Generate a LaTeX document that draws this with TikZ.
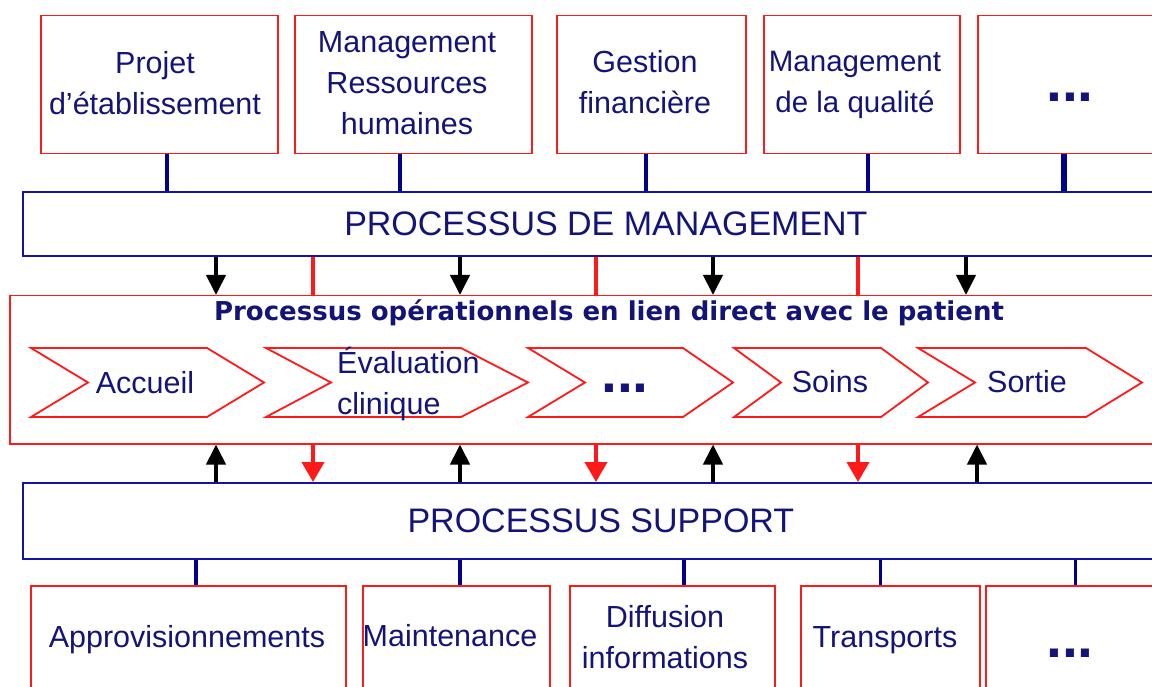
\documentclass[tikz,border=0pt]{standalone}
\usepackage{fontspec}
\setmainfont{Liberation Sans}
\newfontfamily\headfont{DejaVu Sans}
\usetikzlibrary{arrows.meta}
\definecolor{boxred}{RGB}{255,25,25}
\definecolor{linenavy}{RGB}{20,20,160}
\definecolor{stubnavy}{RGB}{0,0,140}
\definecolor{txtnavy}{RGB}{20,20,120}

\begin{document}
\begin{tikzpicture}[x=1pt,y=-1pt,
  redbox/.style={draw=boxred, line width=1.5pt, rectangle, inner sep=0pt, anchor=north west},
  bluebox/.style={draw=linenavy, line width=1.8pt, rectangle, inner sep=0pt, anchor=north west,
    text=txtnavy, font=\fontsize{34}{40}\selectfont},
  lbl/.style={text=txtnavy, font=\fontsize{30.5}{41}\selectfont, align=center, inner sep=0pt},
  dots/.style={text=txtnavy, font=\fontsize{57}{57}\selectfont\bfseries, inner sep=0pt},
  stub/.style={draw=stubnavy, line width=3.5pt},
  redstub/.style={draw=boxred, line width=4pt},
  blackarr/.style={draw=black, line width=4pt, -{Triangle[width=19pt,length=20pt]}},
  redarr/.style={draw=boxred, line width=4pt, -{Triangle[width=22pt,length=20pt]}},
  chev/.style={draw=boxred, line width=1.8pt, line join=miter}
]
\useasboundingbox (0,0) rectangle (1152,687);
\clip (0,0) rectangle (1152,687);

% management processes
\node[redbox, minimum width=237pt, minimum height=138pt] (m1) at (40,15) {};
\node[redbox, minimum width=237pt, minimum height=138pt] (m2) at (294,15) {};
\node[redbox, minimum width=189pt, minimum height=138pt] (m3) at (556,15) {};
\node[redbox, minimum width=196pt, minimum height=138pt] (m4) at (763,15) {};
\node[redbox, minimum width=250pt, minimum height=138pt] (m5) at (977,15) {};
\node[lbl] (t1) at (155,83) {Projet\\d’établissement};
\node[lbl] (t2) at (407,83) {Management\\Ressources\\humaines};
\node[lbl] (t3) at (645,82) {Gestion\\financière};
\node[lbl, font=\fontsize{29.5}{41}\selectfont] (t4) at (855,85) {Management\\de la qualité};
\node[dots] (t5) at (1070,97) {...};

% the three process bands
\node[bluebox, minimum width=1166pt, minimum height=64pt] (mg) at (22,191) {PROCESSUS DE MANAGEMENT};
\node[redbox, minimum width=1200pt, minimum height=148pt] (op) at (9,295) {};
\node[text=txtnavy, font=\headfont\bfseries\fontsize{26}{30}\selectfont, inner sep=0pt] (optitle) at (609,313)
  {Processus opérationnels en lien direct avec le patient};
\node[bluebox, minimum width=1156pt, minimum height=76pt] (sp) at (22,482) {PROCESSUS SUPPORT};

% support processes
\node[redbox, minimum width=315pt, minimum height=140pt] (s1) at (30,585) {};
\node[redbox, minimum width=187pt, minimum height=140pt] (s2) at (362,585) {};
\node[redbox, minimum width=205pt, minimum height=140pt] (s3) at (569,585) {};
\node[redbox, minimum width=179pt, minimum height=140pt] (s4) at (800,585) {};
\node[redbox, minimum width=250pt, minimum height=140pt] (s5) at (985,585) {};
\node[lbl] (b1) at (187,640) {Approvisionnements};
\node[lbl] (b2) at (450,636) {Maintenance};
\node[lbl] (b3) at (665,637) {Diffusion\\informations};
\node[lbl] (b4) at (885,640) {Transports};
\node[dots] (b5) at (1070,653) {...};

% patient pathway chevrons
\draw[chev] (31,348) -- (207,348) -- (264,382.5) -- (207,417) -- (31,417) -- (88,382.5) -- cycle;
\draw[chev] (266,348) -- (461,348) -- (528,382.5) -- (461,417) -- (266,417) -- (331,382.5) -- cycle;
\draw[chev] (528,348) -- (683,348) -- (733,382.5) -- (683,417) -- (528,417) -- (585,382.5) -- cycle;
\draw[chev] (734,348) -- (881,348) -- (928,382.5) -- (881,417) -- (734,417) -- (781,382.5) -- cycle;
\draw[chev] (918,348) -- (1086,348) -- (1142,382.5) -- (1086,417) -- (918,417) -- (975,382.5) -- cycle;
\node[lbl] (c1) at (145,383) {Accueil};
\node[lbl, align=left, anchor=west] (c2) at (337,384) {Évaluation\\clinique};
\node[dots] (c3) at (625,388) {...};
\node[lbl] (c4) at (830,382) {Soins};
\node[lbl] (c5) at (1027,382) {Sortie};

% column positions of the links
\coordinate (k1) at (167,0);
\coordinate (k2) at (400,0);
\coordinate (k3) at (646,0);
\coordinate (k4) at (868,0);
\coordinate (k5) at (1064,0);
\coordinate (j1) at (196,0);
\coordinate (j2) at (460,0);
\coordinate (j3) at (684,0);
\coordinate (j4) at (880,0);
\coordinate (j5) at (1075,0);
\coordinate (a1) at (216,0);
\coordinate (a2) at (313,0);
\coordinate (a3) at (460,0);
\coordinate (a4) at (596,0);
\coordinate (a5) at (713,0);
\coordinate (a6) at (858,0);
\coordinate (a7) at (966,0);
\coordinate (a8) at (977,0);

% management boxes to management band
\draw[stub] (m1.south -| k1) -- (mg.north -| k1);
\draw[stub] (m2.south -| k2) -- (mg.north -| k2);
\draw[stub] (m3.south -| k3) -- (mg.north -| k3);
\draw[stub] (m4.south -| k4) -- (mg.north -| k4);
\draw[stub, line width=5.5pt] (m5.south -| k5) -- (mg.north -| k5);

% management band to operational band
\draw[blackarr] (mg.south -| a1) -- (op.north -| a1);
\draw[redstub] (mg.south -| a2) -- (op.north -| a2);
\draw[blackarr] (mg.south -| a3) -- (op.north -| a3);
\draw[redstub] (mg.south -| a4) -- (op.north -| a4);
\draw[blackarr] (mg.south -| a5) -- (op.north -| a5);
\draw[redstub] (mg.south -| a6) -- (op.north -| a6);
\draw[blackarr] (mg.south -| a7) -- (op.north -| a7);

% operational band and support band
\draw[blackarr] (sp.north -| a1) -- (op.south -| a1);
\draw[redarr] (op.south -| a2) -- (sp.north -| a2);
\draw[blackarr] (sp.north -| a3) -- (op.south -| a3);
\draw[redarr] (op.south -| a4) -- (sp.north -| a4);
\draw[blackarr] (sp.north -| a5) -- (op.south -| a5);
\draw[redarr] (op.south -| a6) -- (sp.north -| a6);
\draw[blackarr] (sp.north -| a8) -- (op.south -| a8);

% support band to support boxes
\draw[stub] (sp.south -| j1) -- (s1.north -| j1);
\draw[stub] (sp.south -| j2) -- (s2.north -| j2);
\draw[stub] (sp.south -| j3) -- (s3.north -| j3);
\draw[stub, line width=3pt] (sp.south -| j4) -- (s4.north -| j4);
\draw[stub, line width=3pt] (sp.south -| j5) -- (s5.north -| j5);
\end{tikzpicture}
\end{document}
